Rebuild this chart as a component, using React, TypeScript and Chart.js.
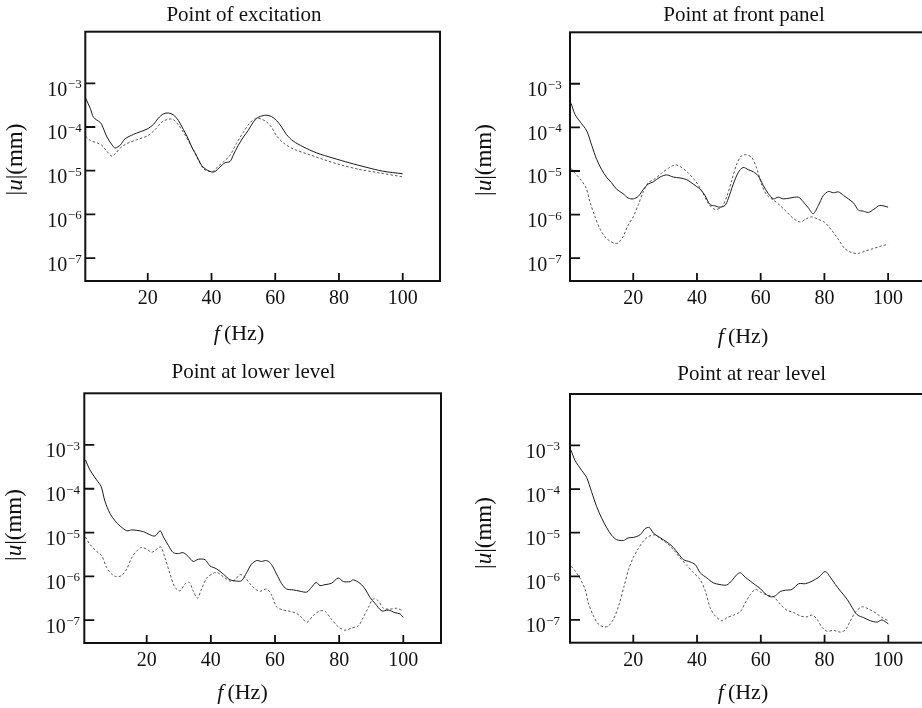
import React, { useEffect, useRef } from "react";
import { Chart, registerables } from "chart.js";
Chart.register(...registerables);

const SERIF = '"Liberation Serif", "Times New Roman", "DejaVu Serif", serif';
const INK = "#111";

// Frequency ticks (Hz) and |u| decade ticks (mm)
const freqTicks = [20, 40, 60, 80, 100];
const decadeTicks = [1e-7, 1e-6, 1e-5, 1e-4, 1e-3];

// ---- Point of excitation (log10 of |u| in mm) ----
const excSolidF = [0.5, 2, 3, 5, 5.6, 7.2, 8.8, 9.8, 11.4, 12.9, 15.5, 17.6, 20, 21.8, 23.3, 24.9, 26.5, 28, 29.6, 31.2, 32.7, 33.8, 34.8, 35.9, 36.9, 38.5, 40.1, 41.1, 42.6, 44.2, 45.8, 46.8, 48.4, 50, 51.5, 53.1, 54.6, 56.2, 57.2, 58.8, 60.4, 62, 63.5, 65.6, 68.7, 72.9, 78.1, 83.3, 88.5, 93.7, 100];
const excSolidLogU = [-3.34, -3.58, -3.78, -3.89, -3.95, -4.23, -4.41, -4.48, -4.41, -4.27, -4.17, -4.11, -4.04, -3.94, -3.8, -3.7, -3.68, -3.72, -3.85, -4.06, -4.27, -4.46, -4.59, -4.74, -4.88, -4.98, -5.03, -5.02, -4.92, -4.82, -4.79, -4.65, -4.42, -4.23, -4.08, -3.89, -3.78, -3.74, -3.73, -3.76, -3.85, -4.0, -4.17, -4.32, -4.45, -4.59, -4.71, -4.82, -4.92, -5.01, -5.07];
const excDashF = [0.5, 2, 4, 5.6, 7.2, 8.8, 9.8, 11.4, 13.4, 16.6, 20, 22.3, 24.4, 26.5, 28, 29.6, 31.2, 32.7, 34.3, 35.9, 37.4, 39, 40.6, 42.2, 43.7, 45.8, 47.8, 50, 52, 54.1, 55.7, 57.2, 58.8, 60.4, 62.5, 65.6, 69.8, 75, 80.2, 86.4, 92.7, 100];
const excDashLogU = [-4.21, -4.31, -4.36, -4.42, -4.56, -4.67, -4.61, -4.48, -4.38, -4.29, -4.2, -4.06, -3.89, -3.82, -3.83, -3.95, -4.12, -4.31, -4.52, -4.76, -4.95, -5.01, -5.01, -4.89, -4.8, -4.65, -4.38, -4.12, -3.91, -3.8, -3.82, -3.88, -4.0, -4.2, -4.36, -4.5, -4.61, -4.74, -4.86, -4.97, -5.05, -5.14];

// ---- Point at front panel ----
const frontSolidF = [0.5, 1.7, 3.3, 5.4, 7, 8.5, 10.1, 11.6, 13.2, 14.8, 16.8, 18.4, 20, 21.6, 23.2, 24.7, 26.3, 28.4, 30.5, 32.6, 34.7, 36.8, 38.8, 40.9, 42.5, 44.1, 45.6, 47.2, 48.8, 49.8, 51.4, 53, 54.5, 56.1, 57.7, 59.2, 60.8, 62.4, 64, 65.5, 67.1, 69.2, 71.8, 73.4, 75, 76.5, 78.1, 79.7, 81.3, 82.8, 84.4, 86, 87.5, 89.1, 90.7, 92.2, 93.8, 95.5, 97.4, 100];
const frontSolidLogU = [-3.45, -3.7, -3.87, -4.08, -4.42, -4.73, -4.97, -5.14, -5.27, -5.42, -5.52, -5.62, -5.64, -5.58, -5.42, -5.3, -5.25, -5.14, -5.09, -5.14, -5.16, -5.2, -5.3, -5.41, -5.56, -5.77, -5.8, -5.83, -5.79, -5.64, -5.3, -5.03, -4.92, -4.97, -5.02, -5.11, -5.33, -5.52, -5.64, -5.6, -5.64, -5.62, -5.6, -5.71, -5.85, -5.98, -5.79, -5.56, -5.47, -5.5, -5.48, -5.56, -5.64, -5.73, -5.9, -5.92, -5.95, -5.88, -5.79, -5.83];
const frontDashF = [0.5, 1.7, 3.3, 5.2, 6.4, 8, 9.5, 11.1, 12.7, 14.3, 15.3, 16.9, 18.4, 20, 21.6, 23.2, 24.7, 26.8, 28.9, 31, 33.1, 35.2, 37.3, 39.4, 41.5, 43.6, 45.6, 47.7, 49.3, 50.9, 52.5, 54, 55.6, 57.2, 58.8, 60.4, 62, 64.1, 66.2, 68.3, 70.3, 72.4, 74, 76, 78.1, 80.1, 82.2, 84.3, 86.4, 88.5, 90.6, 92.7, 95.3, 97.9, 100];
const frontDashLogU = [-4.94, -5.05, -5.18, -5.39, -5.71, -6.05, -6.32, -6.51, -6.61, -6.66, -6.65, -6.49, -6.24, -6.05, -5.77, -5.47, -5.27, -5.18, -5.05, -4.94, -4.86, -4.92, -5.05, -5.22, -5.45, -5.75, -5.88, -5.83, -5.6, -5.22, -4.84, -4.65, -4.63, -4.69, -4.95, -5.33, -5.56, -5.67, -5.8, -5.95, -6.09, -6.17, -6.11, -6.05, -6.11, -6.18, -6.35, -6.56, -6.78, -6.87, -6.89, -6.84, -6.78, -6.72, -6.68];

// ---- Point at lower level ----
const lowerSolidF = [0.9, 2.3, 4.4, 5.8, 7, 8.6, 10.1, 11.7, 13.8, 15.3, 16.9, 19, 21, 22.6, 24.2, 25.2, 26.8, 28.3, 29.9, 31.4, 33, 34.5, 36.1, 38.2, 39.7, 41.8, 43.9, 46, 48.1, 49.6, 51.2, 52.7, 54.3, 55.8, 57.4, 58.9, 60.5, 62.1, 63.6, 65.7, 67.8, 69.9, 71.4, 72.8, 74, 75.6, 77.6, 79.7, 81.3, 83.4, 84.4, 86.5, 88.1, 89.6, 91.2, 93.3, 95.3, 97.4, 99, 100];
const lowerSolidLogU = [-3.34, -3.57, -3.8, -3.95, -4.29, -4.57, -4.73, -4.85, -4.96, -4.94, -4.95, -4.98, -5.05, -5.08, -4.96, -5.1, -5.3, -5.46, -5.48, -5.46, -5.55, -5.66, -5.61, -5.62, -5.76, -5.83, -5.95, -6.08, -6.11, -6.1, -5.91, -5.72, -5.64, -5.66, -5.64, -5.73, -5.95, -6.17, -6.29, -6.31, -6.34, -6.36, -6.25, -6.14, -6.21, -6.19, -6.16, -6.04, -6.12, -6.12, -6.08, -6.16, -6.29, -6.48, -6.62, -6.79, -6.77, -6.83, -6.86, -6.94];
const lowerDashF = [0.9, 2.3, 4.4, 6, 7.5, 9.1, 10.6, 12.2, 13.8, 15.3, 16.9, 18.4, 20, 21.6, 23.1, 24.4, 25.7, 27.3, 28.8, 30.4, 32, 33.3, 34.5, 35.8, 37.1, 38.7, 40.3, 41.8, 43.9, 46, 47.5, 49.1, 50.6, 52.2, 53.8, 55.3, 57.4, 58.9, 60.5, 62.6, 64.7, 66.8, 68.3, 69.9, 71.9, 74, 75.6, 77.6, 79.7, 81.8, 83.9, 86, 87.5, 89.1, 90.6, 92.2, 93.8, 95.8, 97.9, 100];
const lowerDashLogU = [-5.1, -5.27, -5.43, -5.53, -5.8, -5.95, -6.01, -5.98, -5.83, -5.58, -5.42, -5.34, -5.38, -5.45, -5.38, -5.33, -5.58, -5.95, -6.25, -6.33, -6.17, -6.14, -6.33, -6.5, -6.29, -6.04, -5.95, -5.91, -6.01, -6.11, -6.08, -5.96, -6.02, -6.17, -6.29, -6.34, -6.29, -6.42, -6.7, -6.77, -6.8, -6.85, -6.94, -7.05, -6.9, -6.79, -6.8, -6.98, -7.15, -7.23, -7.18, -7.13, -6.94, -6.71, -6.52, -6.56, -6.73, -6.75, -6.73, -6.79];

// ---- Point at rear level ----
const rearSolidF = [0.5, 1.7, 3.8, 5.4, 6.9, 8.5, 10.1, 11.7, 13.2, 14.8, 16.9, 18.4, 20, 22.1, 23.7, 25, 26.3, 27.9, 29.4, 31, 32.6, 34.2, 35.8, 37.8, 39.4, 41, 43.1, 45.1, 47.2, 49.3, 50.9, 52.5, 53.6, 55.1, 56.7, 58.3, 59.8, 61.4, 63, 64.5, 66.1, 67.7, 69.8, 71.9, 74, 76.1, 78.2, 80.2, 81.8, 83.4, 85, 87.1, 88.6, 90.2, 92.3, 94.4, 96.5, 98, 100];
const rearSolidLogU = [-3.11, -3.34, -3.57, -3.74, -4.06, -4.4, -4.67, -4.89, -5.06, -5.16, -5.18, -5.12, -5.11, -5.05, -4.91, -4.88, -5.01, -5.09, -5.16, -5.24, -5.34, -5.49, -5.62, -5.67, -5.73, -5.92, -6.04, -6.15, -6.19, -6.2, -6.1, -5.96, -5.92, -6.02, -6.11, -6.2, -6.28, -6.4, -6.47, -6.45, -6.35, -6.32, -6.3, -6.17, -6.17, -6.11, -6.02, -5.89, -6.02, -6.19, -6.34, -6.53, -6.71, -6.88, -6.95, -7.02, -7.05, -7.0, -7.09];
const rearDashF = [0.5, 1.7, 3.3, 4.9, 5.9, 7.5, 9.1, 10.7, 12.2, 13.8, 15.4, 17, 18.5, 20, 21.6, 23.2, 24.7, 26.8, 28.4, 30.5, 32.6, 34.7, 36.8, 38.9, 41, 42.6, 44.1, 45.7, 47.8, 49.4, 51.5, 53.6, 55.1, 56.7, 58.3, 59.8, 61.9, 64, 66.1, 68.2, 70.3, 72.4, 74.5, 76.1, 77.6, 79.2, 80.8, 82.8, 84.9, 86.5, 88.1, 89.6, 91.7, 93.8, 95.8, 97.9, 100];
const rearDashLogU = [-5.77, -5.87, -6.05, -6.3, -6.61, -6.91, -7.1, -7.16, -7.14, -6.98, -6.68, -6.26, -5.85, -5.57, -5.36, -5.19, -5.09, -5.05, -5.13, -5.24, -5.39, -5.58, -5.75, -5.92, -6.08, -6.34, -6.72, -6.91, -7.02, -6.95, -6.89, -6.81, -6.61, -6.42, -6.3, -6.36, -6.43, -6.47, -6.64, -6.78, -6.83, -6.91, -6.93, -6.89, -6.98, -7.17, -7.26, -7.24, -7.28, -7.23, -7.02, -6.83, -6.7, -6.75, -6.83, -6.94, -7.02];

const titles = ["Point of excitation", "Point at front panel", "Point at lower level", "Point at rear level"];

const pts = (f: number[], lu: number[]) => f.map((x, i) => ({ x, y: Math.pow(10, lu[i]) }));

type Spec = {
  title: string;
  solid: { x: number; y: number }[];
  dash: { x: number; y: number }[];
  x: number; y: number; w: number; h: number;
  area: { l: number; t: number; r: number; b: number };
  xmin: number; xmax: number; gap: number;
  tpos: [number, number]; xl: [number, number]; yl: [number, number];
};

const specs: Spec[] = [
  { title: titles[0], solid: pts(excSolidF, excSolidLogU), dash: pts(excDashF, excDashLogU),
    x: 0, y: 0, w: 460, h: 354, area: { l: 85.3, t: 31.7, r: 440, b: 281 }, xmin: 0.4, xmax: 111.7, gap: 3.6,
    tpos: [244, 15], xl: [239, 334], yl: [15.5, 159.5] },
  { title: titles[1], solid: pts(frontSolidF, frontSolidLogU), dash: pts(frontDashF, frontDashLogU),
    x: 460, y: 0, w: 490, h: 354, area: { l: 110, t: 32.3, r: 465.4, b: 281 }, xmin: 0.15, xmax: 111.7, gap: 8.3,
    tpos: [284, 15], xl: [283, 337], yl: [25, 160] },
  { title: titles[2], solid: pts(lowerSolidF, lowerSolidLogU), dash: pts(lowerDashF, lowerDashLogU),
    x: 0, y: 354, w: 460, h: 354, area: { l: 84.3, t: 39.3, r: 441, b: 289 }, xmin: 0.55, xmax: 111.75, gap: 4.3,
    tpos: [253.5, 18.5], xl: [242.5, 339.5], yl: [15, 171] },
  { title: titles[3], solid: pts(rearSolidF, rearSolidLogU), dash: pts(rearDashF, rearDashLogU),
    x: 460, y: 354, w: 490, h: 354, area: { l: 110, t: 40, r: 465, b: 288.7 }, xmin: 0.15, xmax: 111.5, gap: 10,
    tpos: [291.7, 20], xl: [283, 339], yl: [25, 179] },
];

function makeDecor(spec: Spec) {
  return {
    id: "decor",
    afterDraw(chart: any) {
      const { ctx, chartArea: a, scales } = chart;
      const xs = scales.x, ys = scales.y;
      ctx.save();
      ctx.strokeStyle = INK;
      ctx.lineWidth = 2;
      ctx.strokeRect(a.left, a.top, a.right - a.left, a.bottom - a.top);
      ctx.lineWidth = 1.8;
      ctx.beginPath();
      for (const t of xs.ticks) {
        const px = xs.getPixelForValue(t.value);
        ctx.moveTo(px, a.bottom);
        ctx.lineTo(px, a.bottom - 8);
      }
      for (const t of ys.ticks) {
        const py = ys.getPixelForValue(t.value);
        ctx.moveTo(a.left, py);
        ctx.lineTo(a.left + 10, py);
      }
      ctx.stroke();

      ctx.fillStyle = INK;
      ctx.textBaseline = "alphabetic";
      for (const t of ys.ticks) {
        const py = ys.getPixelForValue(t.value);
        const exp = Math.round(Math.log10(t.value));
        const sup = "\u2212" + Math.abs(exp);
        ctx.font = `13px ${SERIF}`;
        const sw = ctx.measureText(sup).width;
        const right = a.left - spec.gap;
        ctx.textAlign = "left";
        ctx.fillText(sup, right - sw, py + 5);
        ctx.font = `20px ${SERIF}`;
        ctx.textAlign = "right";
        ctx.fillText("10", right - sw - 0.5, py + 12.5);
      }

      // title
      ctx.textAlign = "center";
      ctx.textBaseline = "middle";
      ctx.font = `21px ${SERIF}`;
      ctx.fillText(spec.title, spec.tpos[0], spec.tpos[1]);

      // x label: f (Hz)
      const ital = `italic 22px ${SERIF}`;
      const reg = `22px ${SERIF}`;
      ctx.font = ital;
      const fw = ctx.measureText("f").width;
      ctx.font = reg;
      const hw = ctx.measureText("(Hz)").width;
      const gapF = 4;
      const total = fw + gapF + hw;
      const sx = spec.xl[0] - total / 2;
      ctx.textAlign = "left";
      ctx.font = ital;
      ctx.fillText("f", sx, spec.xl[1]);
      ctx.font = reg;
      ctx.fillText("(Hz)", sx + fw + gapF, spec.xl[1]);

      // y label: |u|(mm)
      const italY = `italic 23px ${SERIF}`;
      const regY = `23px ${SERIF}`;
      ctx.translate(spec.yl[0], spec.yl[1]);
      ctx.rotate(-Math.PI / 2);
      const parts: [string, string][] = [["|", regY], ["u", italY], ["|", regY], ["(mm)", regY]];
      let tw = 0;
      const widths = parts.map(([s, f]) => { ctx.font = f; const w = ctx.measureText(s).width; tw += w; return w; });
      let cx = -tw / 2;
      parts.forEach(([s, f], i) => { ctx.font = f; ctx.fillText(s, cx, 0); cx += widths[i]; });
      ctx.restore();
    },
  };
}

function Panel({ spec }: { spec: Spec }) {
  const ref = useRef<HTMLCanvasElement>(null);
  useEffect(() => {
    const canvas = ref.current!;
    const a = spec.area;
    const chart = new Chart(canvas, {
      type: "line",
      data: {
        datasets: [
          { data: spec.solid, borderColor: "#1a1a1a", borderWidth: 1, pointRadius: 0, tension: 0.3, fill: false },
          { data: spec.dash, borderColor: "#555", borderWidth: 1, borderDash: [2.5, 2], pointRadius: 0, tension: 0.3, fill: false },
        ],
      },
      options: {
        animation: false,
        responsive: false,
        devicePixelRatio: 1,
        layout: { padding: { top: a.t, right: spec.w - a.r, left: 0, bottom: 0 } },
        plugins: { legend: { display: false }, tooltip: { enabled: false }, title: { display: false } },
        scales: {
          x: {
            type: "linear",
            min: spec.xmin,
            max: spec.xmax,
            grid: { display: false, drawTicks: false },
            border: { display: false },
            ticks: { font: { family: SERIF, size: 20 }, color: INK, padding: 6, maxRotation: 0, autoSkip: false, callback: (v: any) => String(v) },
            afterBuildTicks: (s: any) => { s.ticks = freqTicks.map((value) => ({ value })); },
            afterFit: (s: any) => { s.height = spec.h - a.b; },
          },
          y: {
            type: "logarithmic",
            min: Math.pow(10, -7.49),
            max: Math.pow(10, -1.82),
            grid: { display: false, drawTicks: false },
            border: { display: false },
            ticks: { display: false },
            afterBuildTicks: (s: any) => { s.ticks = decadeTicks.map((value) => ({ value })); },
            afterFit: (s: any) => { s.width = a.l; },
          },
        },
      },
      plugins: [makeDecor(spec)],
    } as any);
    return () => chart.destroy();
  }, [spec]);
  return (
    <canvas
      ref={ref}
      width={spec.w}
      height={spec.h}
      style={{ position: "absolute", left: spec.x, top: spec.y, width: spec.w, height: spec.h }}
    />
  );
}

export default function App() {
  return (
    <div style={{ position: "fixed", left: 0, top: 0, width: 922, height: 708, overflow: "hidden", background: "#fff" }}>
      {specs.map((s, i) => (
        <Panel key={i} spec={s} />
      ))}
    </div>
  );
}
